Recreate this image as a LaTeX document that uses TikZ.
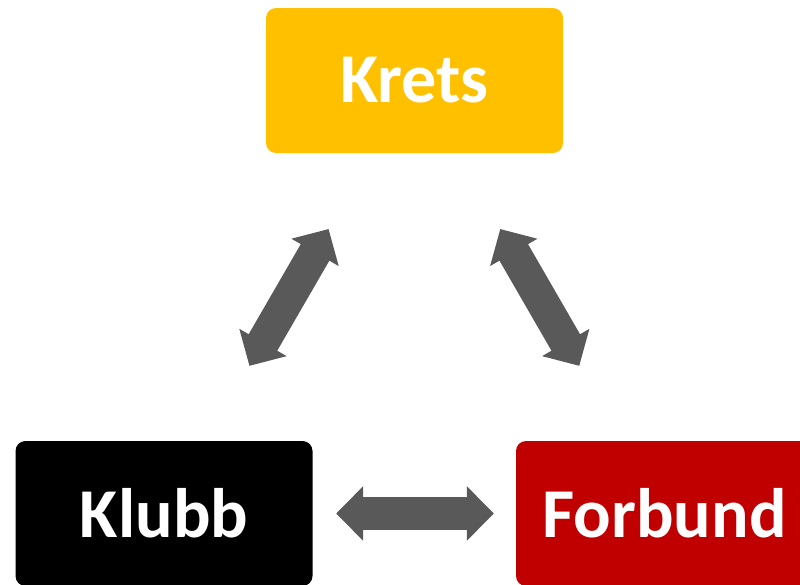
\documentclass[tikz,border=0pt]{standalone}
\usepackage{fontspec}
\setmainfont{Carlito}
\usetikzlibrary{arrows.meta,calc}

\definecolor{kretsgold}{HTML}{FFC000}
\definecolor{forbundred}{HTML}{C00000}
\definecolor{arrowgray}{HTML}{595959}

\tikzset{
    orgbox/.style={rectangle, rounded corners=10pt, minimum width=297pt,
        minimum height=145pt, inner sep=0pt, text=white,
        font=\fontsize{70}{84}\selectfont\bfseries},
    biarrow/.style={arrowgray, line width=33pt,
        {Triangle[width=53pt,length=27pt]}-{Triangle[width=53pt,length=27pt]}}
}

\begin{document}
\begin{tikzpicture}[x=1pt,y=-1pt]
                \useasboundingbox (0,0) rectangle (800,584);
                \node[orgbox, fill=kretsgold] (krets) at (414.5,80.5) {Krets};
                \node[orgbox, fill=black] (klubb) at (164,513.5) {Klubb};
                \node[orgbox, fill=forbundred] (forbund) at (664.5,513.5) {Forbund};
                \draw[biarrow] ($(krets)!0.343!(klubb)$) -- ($(krets)!0.659!(klubb)$);
                \draw[biarrow] ($(krets)!0.343!(forbund)$) -- ($(krets)!0.659!(forbund)$);
                \draw[biarrow] ($(klubb)!0.344!(forbund)$) -- ($(klubb)!0.659!(forbund)$);
            \end{tikzpicture}
\end{document}
